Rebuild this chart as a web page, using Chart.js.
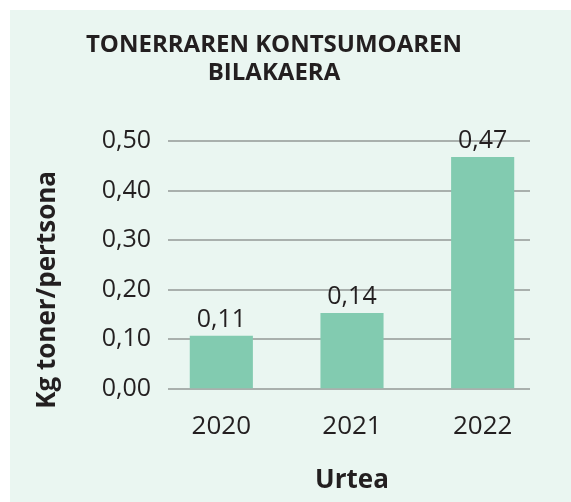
<!DOCTYPE html>
<html>
<head>
<meta charset="utf-8">
<script src="https://cdn.jsdelivr.net/npm/chart.js@4/dist/chart.umd.min.js"></script>
<style>
  html, body { margin: 0; padding: 0; background: #ffffff; }
  #wrap { position: relative; width: 571px; height: 502px; }
  #panel { position: absolute; left: 10px; top: 10px; right: 0; bottom: 0; background: #eaf6f1; }
  #chart { position: absolute; left: 0; top: 0; }
</style>
</head>
<body>
<div id="wrap">
  <div id="panel"></div>
  <canvas id="chart" width="571" height="502"></canvas>
</div>
<script>
document.addEventListener('DOMContentLoaded', () => {

  // chart data
  const years = ['2020', '2021', '2022'];
  const tonerKg = [0.107, 0.153, 0.468];
  const valueLabels = ['0,11', '0,14', '0,47'];
  const yTickLabels = ['0,00', '0,10', '0,20', '0,30', '0,40', '0,50'];

  const titleLines = ['TONERRAREN KONTSUMOAREN', 'BILAKAERA'];
  const yTitle = 'Kg toner/pertsona';
  const xTitle = 'Urtea';

  const textColor = '#231f20';
  const fontFamily = '"Open Sans", Lato, sans-serif';

  // gridlines, value labels and the y axis title
  const extras = {
    id: 'extras',
    beforeDatasetsDraw(chart) {
      const { ctx, chartArea, scales } = chart;
      const y = scales.y;
      ctx.save();
      ctx.strokeStyle = '#a9b0ad';
      ctx.lineWidth = 2;
      y.ticks.forEach(t => {
        const py = Math.round(y.getPixelForValue(t.value));
        ctx.beginPath();
        ctx.moveTo(chartArea.left + 12, py);
        ctx.lineTo(chartArea.right - 18, py);
        ctx.stroke();
      });
      ctx.restore();
    },
    afterDatasetsDraw(chart) {
      const { ctx } = chart;
      const meta = chart.getDatasetMeta(0);
      ctx.save();
      ctx.fillStyle = textColor;
      ctx.font = '25px ' + fontFamily;
      ctx.textAlign = 'center';
      ctx.textBaseline = 'alphabetic';
      meta.data.forEach((bar, i) => {
        ctx.fillText(valueLabels[i], bar.x, bar.y - 9);
      });
      ctx.restore();
    },
    afterDraw(chart) {
      const { ctx, chartArea } = chart;
      ctx.save();
      ctx.fillStyle = textColor;
      ctx.font = 'bold 26px ' + fontFamily;
      ctx.textAlign = 'center';
      ctx.textBaseline = 'middle';
      ctx.translate(48, (chartArea.top + chartArea.bottom) / 2 + 25);
      ctx.rotate(-Math.PI / 2);
      ctx.fillText(yTitle, 0, 0);
      ctx.restore();
    }
  };

  const ctx = document.getElementById('chart').getContext('2d');

  new Chart(ctx, {
    type: 'bar',
    data: {
      labels: years,
      datasets: [{
        data: tonerKg,
        backgroundColor: '#82cbb0',
        borderWidth: 0,
        categoryPercentage: 1,
        barPercentage: 0.483
      }]
    },
    options: {
      responsive: false,
      animation: false,
      layout: { padding: { left: 0, right: 23, top: 0, bottom: 6 } },
      scales: {
        x: {
          grid: { display: false, drawTicks: false },
          border: { display: false },
          ticks: { color: textColor, font: { family: fontFamily, size: 26 }, padding: 22 },
          title: {
            display: true,
            text: xTitle,
            color: textColor,
            font: { family: fontFamily, size: 26, weight: 'bold' },
            padding: { top: 1, bottom: 0 }
          }
        },
        y: {
          min: 0,
          max: 0.5,
          grid: { display: false, drawTicks: false },
          border: { display: false },
          ticks: {
            stepSize: 0.1,
            color: textColor,
            font: { family: fontFamily, size: 25 },
            padding: 5,
            callback: (value, index) => yTickLabels[index]
          },
          afterFit(scale) { scale.width = 156; }
        }
      },
      plugins: {
        legend: { display: false },
        tooltip: { enabled: false },
        title: {
          display: true,
          text: titleLines,
          color: textColor,
          font: { family: fontFamily, size: 24, weight: 'bold', lineHeight: 1.17 },
          padding: { top: 31, bottom: 54 }
        }
      }
    },
    plugins: [extras]
  });

});
</script>
</body>
</html>
